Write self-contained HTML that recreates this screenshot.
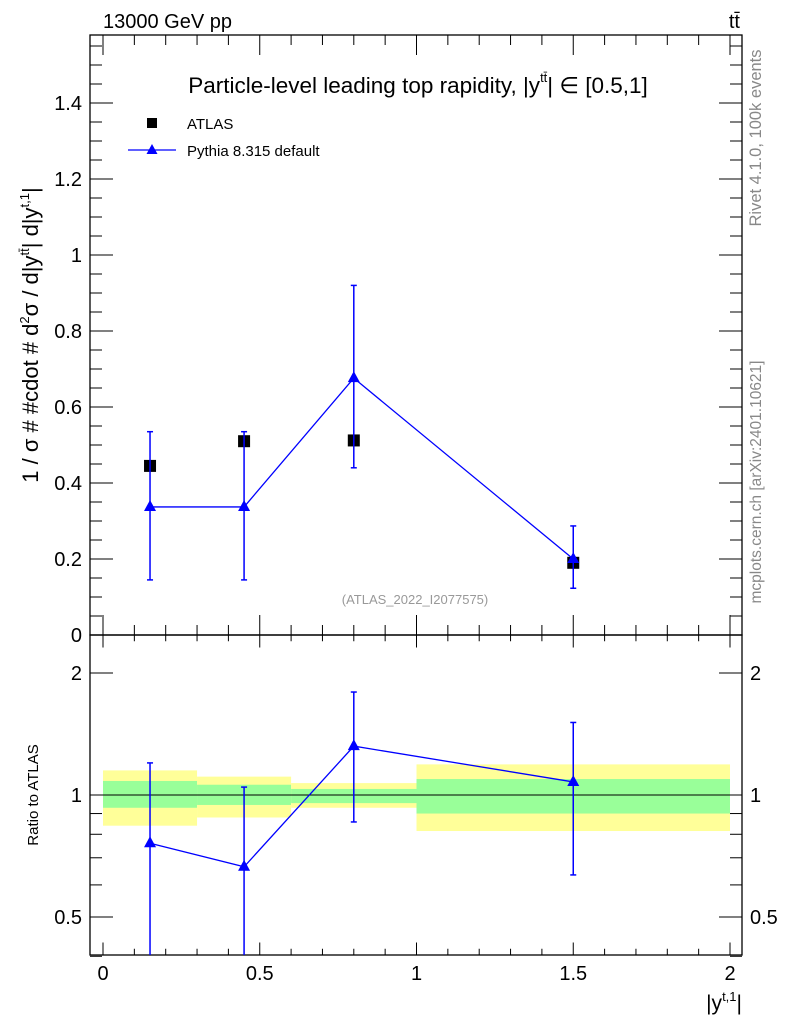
<!DOCTYPE html>
<html><head><meta charset="utf-8">
<style>
body{margin:0;background:#fff;}
svg{display:block;font-family:"Liberation Sans",sans-serif;}
</style></head><body>
<svg id="c" width="786" height="1024" xmlns="http://www.w3.org/2000/svg">
<text x="103" y="28" font-size="20">13000 GeV pp</text>
<text x="740" y="28" font-size="20" text-anchor="end">tt̄</text>
<text x="418" y="93" font-size="22.5" text-anchor="middle">Particle-level leading top rapidity, |y<tspan font-size="13" dy="-11">tt̄</tspan><tspan dy="11">| ∈ [0.5,1]</tspan></text>
<text x="415" y="604" font-size="13" fill="#999" text-anchor="middle">(ATLAS_2022_I2077575)</text>
<text transform="translate(761,138) rotate(-90)" font-size="16.5" fill="#888" text-anchor="middle">Rivet 4.1.0,  100k events</text>
<text transform="translate(761,482) rotate(-90)" font-size="15.5" fill="#888" text-anchor="middle">mcplots.cern.ch [arXiv:2401.10621]</text>
<text transform="translate(38,335) rotate(-90)" font-size="22" text-anchor="middle">1 / σ # #cdot # d<tspan font-size="13" dy="-9">2</tspan><tspan dy="9">σ / d|y</tspan><tspan font-size="13" dy="-9">tt̄</tspan><tspan dy="9">| d|y</tspan><tspan font-size="13" dy="-9">t,1</tspan><tspan dy="9">|</tspan></text>
<text transform="translate(38,795) rotate(-90)" font-size="15" text-anchor="middle">Ratio to ATLAS</text>
<text x="742" y="1010" font-size="21" text-anchor="end">|y<tspan font-size="13" dy="-9">t,1</tspan><tspan dy="9">|</tspan></text>
<g id="legend">
<rect x="147" y="118" width="10" height="10" fill="#000"/>
<text x="187" y="129" font-size="15">ATLAS</text>
<line x1="128" y1="150" x2="176" y2="150" stroke="#00f" stroke-width="1.3"/>
<polygon points="152,144 146.5,154 157.5,154" fill="#00f"/>
<text x="187" y="156" font-size="15">Pythia 8.315 default</text>
</g>
</svg>
<script>
const xCenters=[0.15,0.45,0.8,1.5];
const binEdges=[0,0.3,0.6,1,2];
const atlasVals=[0.445,0.51,0.512,0.19];
const pythiaVals=[0.337,0.337,0.676,0.2];
const pythiaLo=[0.145,0.145,0.44,0.123];
const pythiaHi=[0.535,0.535,0.92,0.287];
const ratioVals=[0.76,0.665,1.32,1.077];
const ratioLo=[0.30,0.30,0.858,0.635];
const ratioHi=[1.20,1.046,1.795,1.51];
const greenLo=[0.93,0.945,0.955,0.90];
const greenHi=[1.083,1.06,1.035,1.095];
const yellowLo=[0.84,0.88,0.93,0.815];
const yellowHi=[1.15,1.11,1.07,1.19];
const xTicks=[0,0.5,1,1.5,2];
const xTickLabels=["0","0.5","1","1.5","2"];
const yTicks=[0,0.2,0.4,0.6,0.8,1,1.2,1.4];
const yTickLabels=["0","0.2","0.4","0.6","0.8","1","1.2","1.4"];
const rTicks=[0.5,1,2];
const rTickLabels=["0.5","1","2"];

const NS="http://www.w3.org/2000/svg";
const svg=document.getElementById('c');
const L=90,R=742,T=35,M=635,B=955;
const X=v=>103+v*313.5;
const Y=v=>635-v*380;
const RY=v=>795-Math.log2(v)*122;
function mk(t,a,p){const e=document.createElementNS(NS,t);for(const k in a)e.setAttribute(k,a[k]);(p||svg).appendChild(e);return e;}
for(let i=0;i<4;i++){
 const r1=mk('rect',{x:X(binEdges[i]),y:RY(yellowHi[i]),width:X(binEdges[i+1])-X(binEdges[i]),height:RY(yellowLo[i])-RY(yellowHi[i]),fill:'#ffff99'});
 
 
 const r2=mk('rect',{x:X(binEdges[i]),y:RY(greenHi[i]),width:X(binEdges[i+1])-X(binEdges[i]),height:RY(greenLo[i])-RY(greenHi[i]),fill:'#99ff99'});
 
 
}
const one=mk('line',{x1:L,x2:R,y1:RY(1),y2:RY(1),stroke:'#000','stroke-width':1});


const f1=mk('rect',{x:L,y:T,width:R-L,height:M-T,fill:'none',stroke:'#000','stroke-width':1.3});


const f2=mk('rect',{x:L,y:M,width:R-L,height:B-M,fill:'none',stroke:'#000','stroke-width':1.3});


function tk(x1,y1,x2,y2){const l=mk('line',{x1,y1,x2,y2,stroke:'#000','stroke-width':1});}
for(let k=0;k<=20;k++){const v=k/10,x=X(v),len=(k%5==0)?20:10;
 tk(x,T,x,T+len);tk(x,M,x,M-len);tk(x,M,x,M+len/1.6);tk(x,B,x,B-len/1.6);}
xTicks.forEach((v,i)=>{const t=mk('text',{x:X(v),y:980,'font-size':20,'text-anchor':'middle'});t.textContent=xTickLabels[i];});
for(let k=0;k<=31;k++){const v=k*0.05,y=Y(v);if(y<T)break;const len=(k%4==0)?23:12;tk(L,y,L+len,y);tk(R,y,R-len,y);}
yTicks.forEach((v,i)=>{const t=mk('text',{x:82,y:Y(v)+7,'font-size':20,'text-anchor':'end'});t.textContent=yTickLabels[i];});
[0.4,0.5,0.6,0.7,0.8,0.9,1,2].forEach(v=>{const y=RY(v);const len=(v==0.5||v==1||v==2)?23:12;tk(L,y,L+len,y);tk(R,y,R-len,y);});
rTicks.forEach((v,i)=>{const t=mk('text',{x:82,y:RY(v)+7,'font-size':20,'text-anchor':'end'});t.textContent=rTickLabels[i];
 const t2=mk('text',{x:750,y:RY(v)+7,'font-size':20});t2.textContent=rTickLabels[i];});
const clipR=mk('clipPath',{id:'cr'});mk('rect',{x:L,y:M,width:R-L,height:B-M},clipR);
function errbar(x,y1,y2,name,clip){const g=mk('g',clip?{'clip-path':'url(#cr)'}:{});
 mk('line',{x1:x,x2:x,y1,y2,stroke:'#00f','stroke-width':1.5},g);mk('line',{x1:x-3,x2:x+3,y1,y2:y1,stroke:'#00f','stroke-width':1.5},g);mk('line',{x1:x-3,x2:x+3,y1:y2,y2,stroke:'#00f','stroke-width':1.5},g);}
function tri(x,y,name){const p=mk('polygon',{points:`${x},${y-7} ${x-6},${y+4} ${x+6},${y+4}`,fill:'#00f'});}
xCenters.forEach((c,i)=>{
 const a=mk('rect',{x:X(c)-6,y:Y(atlasVals[i])-6,width:12,height:12,fill:'#000'});
 errbar(X(c),Y(pythiaLo[i]),Y(pythiaHi[i]),'pythia-error-bar',false);
 errbar(X(c),RY(ratioLo[i]),RY(ratioHi[i]),'ratio-error-bar',true);
});
const pl=mk('polyline',{points:xCenters.map((c,i)=>X(c)+','+Y(pythiaVals[i])).join(' '),fill:'none',stroke:'#00f','stroke-width':1.3});


const rl=mk('polyline',{points:xCenters.map((c,i)=>X(c)+','+RY(ratioVals[i])).join(' '),fill:'none',stroke:'#00f','stroke-width':1.3});


xCenters.forEach((c,i)=>{tri(X(c),Y(pythiaVals[i]),'pythia-point');tri(X(c),RY(ratioVals[i]),'ratio-point');});
</script>
</body></html>
